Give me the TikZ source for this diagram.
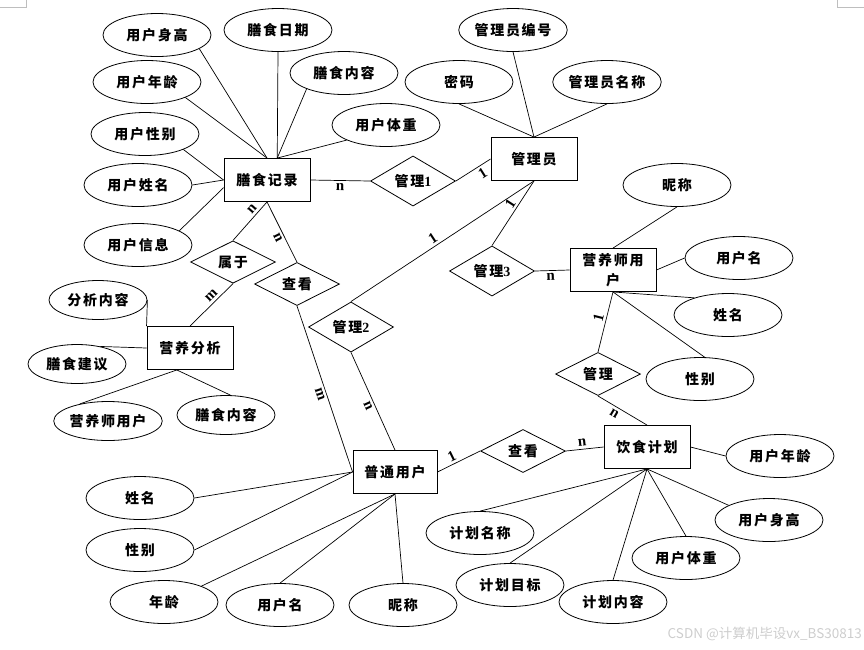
\documentclass[tikz,border=0pt]{standalone}
\usepackage{fontspec}
\usepackage{tikz}
\usetikzlibrary{shapes.geometric}
\setmainfont{Liberation Serif}
\newfontfamily\zhfont{Noto Sans CJK SC}[LetterSpace=12]
\newfontfamily\zhplain{Noto Sans CJK SC}
\newfontfamily\enfont{Liberation Serif}
\definecolor{markgray}{RGB}{190,190,190}
\definecolor{wmgray}{RGB}{205,205,205}

\tikzset{
  entity/.style={draw, rectangle, line width=0.9pt, minimum width=86pt,
    minimum height=43pt, inner sep=2pt, align=center,
    font=\zhfont\bfseries\fontsize{14}{20}\selectfont},
  attr/.style={draw, ellipse, line width=0.8pt, minimum width=108pt,
    minimum height=43pt, inner sep=0pt,
    font=\zhfont\bfseries\fontsize{14}{17}\selectfont},
  attrsm/.style={attr, minimum width=98pt, minimum height=39pt},
  rel/.style={draw, diamond, line width=0.8pt, minimum width=85pt,
    minimum height=42pt, inner sep=0pt,
    font=\zhfont\bfseries\fontsize{14}{17}\selectfont},
  card/.style={font=\enfont\bfseries\fontsize{15}{15}\selectfont,
    inner sep=2.5pt, sloped},
  link/.style={line width=0.7pt},
}

\begin{document}
\begin{tikzpicture}[x=1pt, y=-1pt]
  \useasboundingbox (0,0) rectangle (864,649);

  % entities
  \node[entity] (jl) at (267,180) {膳食记录};
  \node[entity] (gly) at (534,159) {管理员};
  \node[entity] (yys) at (613,270) {营养师用\\户};
  \node[entity] (yyfx) at (190,348) {营养分析};
  \node[entity, minimum width=84pt] (pt) at (395,472) {普通用户};
  \node[entity] (jh) at (647,447) {饮食计划};

  % relations
  \node[rel] (r1) at (413,181) {管理{\enfont 1}};
  \node[rel] (rsy) at (233,262) {属于};
  \node[rel] (rck1) at (297,284) {查看};
  \node[rel] (r2) at (351,327) {管理{\enfont 2}};
  \node[rel] (r3) at (492,271) {管理{\enfont 3}};
  \node[rel] (r4) at (598,374) {管理};
  \node[rel] (rck2) at (523,451) {查看};

  % attributes
  \node[attr] (sg1) at (157,35) {用户身高};
  \node[attr] (rq) at (278,30) {膳食日期};
  \node[attr] (nr1) at (344,73) {膳食内容};
  \node[attr] (nl1) at (147,82) {用户年龄};
  \node[attr] (tz1) at (386,125) {用户体重};
  \node[attr] (xb1) at (145,134) {用户性别};
  \node[attr] (xm1) at (138,185) {用户姓名};
  \node[attr] (xx) at (138,245) {用户信息};
  \node[attr] (bh) at (513,30) {管理员编号};
  \node[attr] (mm) at (459,82) {密码};
  \node[attr] (mc) at (607,82) {管理员名称};
  \node[attr] (nc2) at (677,185) {昵称};
  \node[attr] (yhm2) at (739,258) {用户名};
  \node[attr] (xm2) at (728,315) {姓名};
  \node[attr] (xb2) at (700,379) {性别};
  \node[attrsm] (fxnr) at (98,300) {分析内容};
  \node[attrsm] (jy) at (77,364) {膳食建议};
  \node[attrsm] (yysa) at (108,421) {营养师用户};
  \node[attrsm] (nr2) at (226,415) {膳食内容};
  \node[attr] (xm3) at (140,498) {姓名};
  \node[attr] (xb3) at (140,550) {性别};
  \node[attr] (nl3) at (164,602) {年龄};
  \node[attr] (yhm3) at (280,605) {用户名};
  \node[attr] (nc3) at (403,605) {昵称};
  \node[attr] (nl4) at (780,456) {用户年龄};
  \node[attr] (sg4) at (769,520) {用户身高};
  \node[attr] (tz4) at (686,558) {用户体重};
  \node[attr] (jhnr) at (613,602) {计划内容};
  \node[attr] (mb) at (510,585) {计划目标};
  \node[attr] (jhmc) at (480,533) {计划名称};

  % attribute links
  \draw[link] (sg1.-18) -- (jl.north);
  \draw[link] (nl1.-22) -- (jl.north);
  \draw[link] (rq.south) -- (jl.65);
  \draw[link] (nr1.-157) -- (jl.65);
  \draw[link] (tz1.-159) -- (jl.65);
  \draw[link] (xb1.-22) -- (jl.west);
  \draw[link] (xm1.east) -- (jl.west);
  \draw[link] (xx.19) -- (jl.190);
  \draw[link] (bh.south) -- (gly.north);
  \draw[link] (mm.south) -- (gly.north);
  \draw[link] (mc.south) -- (gly.north);
  \draw[link] (nc2.south) -- (yys.north);
  \draw[link] (yhm2.west) -- (yys.east);
  \draw[link] (xm2.153) -- (yys.south);
  \draw[link] (xb2.78) -- (yys.south);
  \draw[link] (fxnr.east) -- (yyfx.north west);
  \draw[link] (jy.37) -- (yyfx.west);
  \draw[link] (yysa.149) -- (yyfx.-121);
  \draw[link] (nr2.77) -- (yyfx.-121);
  \draw[link] (xm3.east) -- (pt.west);
  \draw[link] (xb3.east) -- (pt.west);
  \draw[link] (nl3.23) -- (pt.south);
  \draw[link] (yhm3.north) -- (pt.south);
  \draw[link] (nc3.north) -- (pt.south);
  \draw[link] (nl4.west) -- (jh.east);
  \draw[link] (sg4.160) -- (jh.south);
  \draw[link] (tz4.north) -- (jh.south);
  \draw[link] (jhnr.north) -- (jh.south);
  \draw[link] (mb.north) -- (jh.south);
  \draw[link] (jhmc.north) -- (jh.south);

  % relation links
  \draw[link] (jl.east) -- node[card, below, pos=0.5] {n} (r1.west);
  \draw[link] (r1.east) -- node[card, below, pos=0.65] {1} (gly.west);
  \draw[link] (gly.south) -- node[card, above, pos=0.41] {1} (r3.north);
  \draw[link] (gly.south) -- node[card, above, pos=0.53] {1} (r2.north);
  \draw[link] (jl.south) -- node[card, above, pos=0.3] {n} (rsy.north);
  \draw[link] (rsy.south) -- node[card, above, pos=0.4] {m} (yyfx.north);
  \draw[link] (jl.south) -- node[card, below, pos=0.55] {n} (rck1.north);
  \draw[link] (rck1.south) -- node[card, below, pos=0.52] {m} (pt.west);
  \draw[link] (r2.south) -- node[card, below, pos=0.52] {n} (pt.north);
  \draw[link] (pt.east) -- node[card, above, pos=0.42] {1} (rck2.west);
  \draw[link] (rck2.east) -- node[card, above, pos=0.45] {n} (jh.west);
  \draw[link] (r3.east) -- node[card, below, pos=0.45] {n} (yys.west);
  \draw[link] (yys.south) -- node[card, above, pos=0.46] {1} (r4.north);
  \draw[link] (r4.south) -- node[card, below, pos=0.4] {n} (jh.north);

  % page corner marks
  \draw[markgray, line width=0.6pt] (0,7) -- (26,7) -- (26,0);
  \draw[markgray, line width=0.6pt] (837,0) -- (837,7) -- (864,7);

  \node[font=\zhplain\fontsize{13.5}{14}\selectfont, text=wmgray, anchor=east,
    inner sep=0pt] (wm) at (862,634) {CSDN @计算机毕设vx\_BS30813};
\end{tikzpicture}
\end{document}
